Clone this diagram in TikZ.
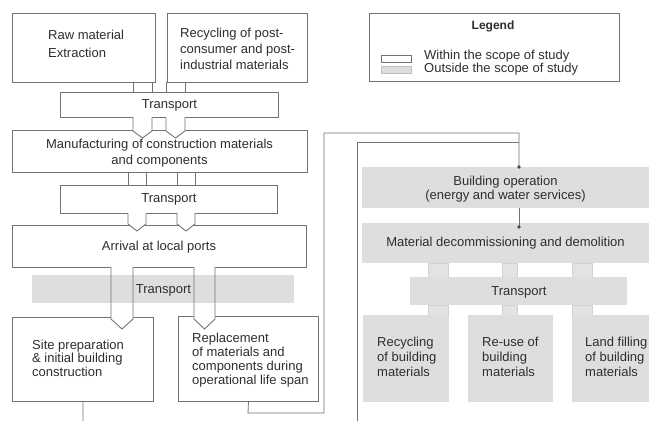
\documentclass[tikz,border=0pt]{standalone}
\usepackage{fontspec}
\setmainfont{Liberation Sans}
\usetikzlibrary{arrows.meta}
\definecolor{outg}{RGB}{222,222,222}
\definecolor{edge}{RGB}{115,115,115}
\begin{document}
\begin{tikzpicture}[x=1pt,y=-1pt,
  inbox/.style={draw=edge, line width=0.9pt, fill=white, inner sep=0pt, anchor=north west},
  outbox/.style={fill=outg, draw=none, inner sep=0pt, anchor=north west},
  gconn/.style={fill=outg!85, draw=black!18, line width=0.5pt},
  wconn/.style={draw=edge, line width=0.9pt, fill=white},
  txt/.style={font=\fontsize{13}{14}\selectfont, text=black!82, inner sep=0pt},
  ltxt/.style={txt, anchor=north west, align=left},
  link/.style={draw=black!55, line width=0.8pt}]
\useasboundingbox (0,0) rectangle (649,421);
\fill[white] (0,0) rectangle (649,421);

% ---------------- left column boxes
\node[inbox, minimum width=143pt, minimum height=69pt] (raw) at (12,13) {};
\node[inbox, minimum width=140pt, minimum height=69pt] (rec) at (167,13) {};
\node[ltxt] (rawT) at (48,29.5) {Raw material\\[4pt]Extraction};
\node[ltxt, font=\fontsize{13}{16}\selectfont] (recT) at (180,27.5) {Recycling of post-\\consumer and post-\\industrial materials};

% connectors raw/rec -> transport 1
\draw[wconn] (133,82) rectangle (152,92);
\draw[wconn] (166,82) rectangle (185,92);

\node[inbox, minimum width=218pt, minimum height=25pt] (t1) at (60,92) {};
\node[txt] (t1T) at (t1.center) {Transport};

\node[inbox, minimum width=295pt, minimum height=42pt] (man) at (12,130) {};
\node[txt, align=center, font=\fontsize{13}{16}\selectfont] (manT) at (159.5,153.5) {Manufacturing of construction materials\\and components};

\draw[wconn] (133,117) -- (133,131) -- (142.5,138) -- (152,131) -- (152,117);
\draw[wconn] (166,117) -- (166,131) -- (175.5,138) -- (185,131) -- (185,117);

\draw[wconn] (128,172) rectangle (146,185);
\draw[wconn] (177,172) rectangle (195,185);

\node[inbox, minimum width=217pt, minimum height=28pt] (t2) at (60,185) {};
\node[txt] (t2T) at (t2.center) {Transport};

\node[inbox, minimum width=294pt, minimum height=42pt] (arr) at (12,225) {};
\node[txt] (arrT) at (159,247) {Arrival at local ports};

\draw[wconn] (128,213) -- (128,224) -- (137,231) -- (146,224) -- (146,213);
\draw[wconn] (177,213) -- (177,224) -- (186,231) -- (195,224) -- (195,213);

% site and replacement
\node[inbox, minimum width=141pt, minimum height=84pt] (site) at (12,317) {};
\node[inbox, minimum width=140pt, minimum height=85pt] (rep) at (178,316) {};
\node[ltxt, font=\fontsize{13}{13.5}\selectfont] (siteT) at (32,339.5) {Site preparation\\\& initial building\\construction};
\node[ltxt] (repT) at (192,332.5) {Replacement\\of materials and\\components during\\operational life span};

% arrows through the grey transport
\fill[white] (111,267) -- (111,319) -- (122,329) -- (133,319) -- (133,267) -- cycle;
\fill[white] (194,267) -- (194,319) -- (204.5,329) -- (215,319) -- (215,267) -- cycle;
\node[outbox, minimum width=262pt, minimum height=28pt] (t3) at (32,275) {};
\node[txt] (t3T) at (163.5,290) {Transport};
\draw[link, draw=edge, line width=0.9pt] (111,267) -- (111,319) -- (122,329) -- (133,319) -- (133,267);
\draw[link, draw=edge, line width=0.9pt] (194,267) -- (194,319) -- (204.5,329) -- (215,319) -- (215,267);

% ---------------- legend
\node[inbox, minimum width=250pt, minimum height=68pt] (leg) at (369,13) {};
\node[txt, font=\bfseries\fontsize{12}{14}\selectfont] (legT) at (493,26) {Legend};
\node[inbox, draw=edge, line width=0.7pt, minimum width=30pt, minimum height=7pt] (swW) at (381,54.5) {};
\node[outbox, draw=black!25, line width=0.5pt, minimum width=30pt, minimum height=7pt] (swG) at (381,65.5) {};
\node[txt, anchor=west] (legW) at (424,56) {Within the scope of study};
\node[txt, anchor=west] (legO) at (424,69.5) {Outside the scope of study};

% ---------------- right column
\node[outbox, minimum width=287pt, minimum height=41pt] (bop) at (362,167) {};
\node[txt, align=center] (bopT) at (505.5,189) {Building operation\\(energy and water services)};
\coordinate (bopin) at (519,167);

\node[outbox, minimum width=287pt, minimum height=40pt] (mat) at (362,223) {};
\node[txt] (matT) at (505.5,243) {Material decommissioning and demolition};

\draw[gconn] (428,263) rectangle (448,277);
\draw[gconn] (502,263) rectangle (517,277);
\draw[gconn] (572,263) rectangle (592,277);

\node[outbox, minimum width=217pt, minimum height=28pt] (t4) at (410,277) {};
\node[txt] (t4T) at (519,292) {Transport};

\draw[gconn] (428,305) rectangle (448,315);
\draw[gconn] (502,305) rectangle (517,315);
\draw[gconn] (572,305) rectangle (592,315);

\node[outbox, minimum width=86pt, minimum height=87pt] (rb) at (363,315) {};
\node[outbox, minimum width=85pt, minimum height=87pt] (ru) at (468,315) {};
\node[outbox, minimum width=77pt, minimum height=87pt] (lf) at (572,315) {};
\node[ltxt, font=\fontsize{13}{15}\selectfont] (rbT) at (377,336.5) {Recycling\\of building\\materials};
\node[ltxt, font=\fontsize{13}{15}\selectfont] (ruT) at (482,336.5) {Re-use of\\building\\materials};
\node[ltxt, font=\fontsize{13}{15}\selectfont] (lfT) at (585,336.5) {Land filling\\of building\\materials};

% ---------------- connecting lines
\coordinate (sitecut) at (83,421);
\coordinate (opcut) at (357,421);
\draw[link] (site.south) -- (sitecut);
\draw[link] (rep.south) -- (248,413) -- (324,413) -- (324,133) -- (519,133) -- (bopin);
\draw[link] (opcut) -- (357,142) -- (519,142);
\fill[black!70] (bopin) circle (1.8pt);
\draw[link] (bop.south -| bopin) -- (519,227);
\fill[black!70] (519,227) circle (1.8pt);
\end{tikzpicture}
\end{document}
